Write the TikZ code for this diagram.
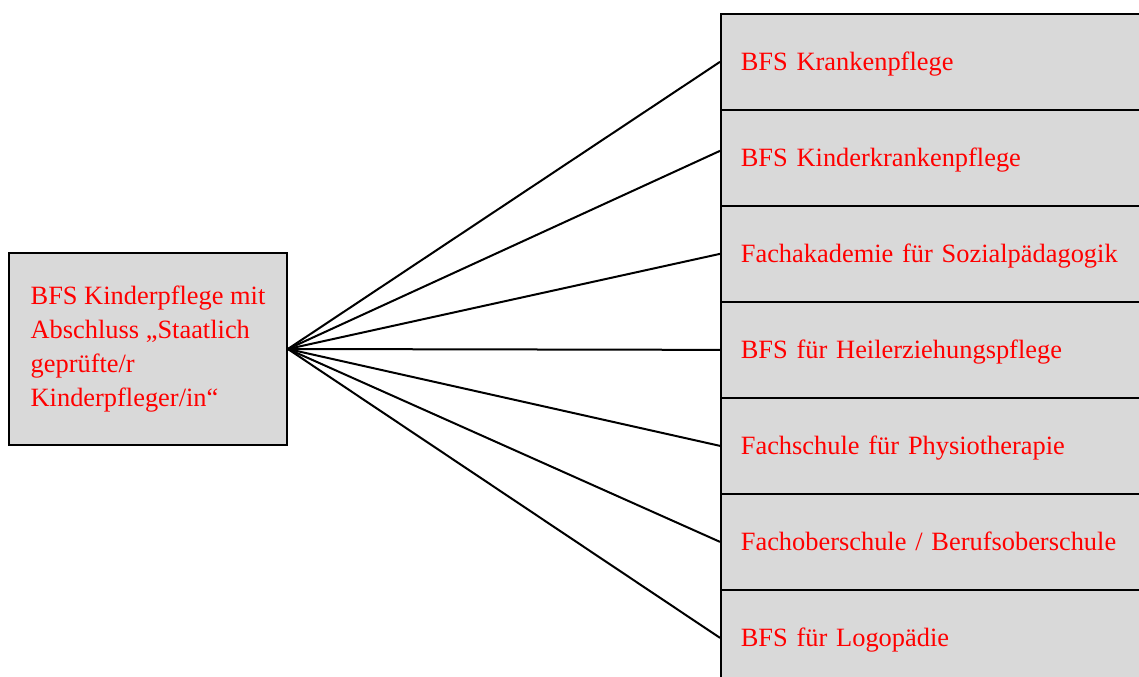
\documentclass[tikz,border=0pt]{standalone}
\usepackage{fontspec}
\setmainfont{Liberation Serif}
\begin{document}
\begin{tikzpicture}[x = 0.75pt, y = -0.75pt,
        every node/.style = {font = \fontsize{19.8}{25.7}\selectfont, text = red},
        box/.style = {draw, line width = 1.3pt, fill = black!15, inner sep = 0pt},
        leftbox/.style = {box, minimum width = 208.5pt, minimum height = 144pt, align = left},
        rightbox/.style = {box, anchor = north west, minimum height = 72pt, inner xsep = 15pt,
            text width = 330pt, align = left, text height = 13pt, text depth = 0pt},
        link/.style = {line width = 1.5pt}]
        \useasboundingbox (0, 0) rectangle (1139, 677);
        \clip (0, 0) rectangle (1139, 677);
        % Ausgangspunkt
        \node[leftbox] (kinderpflege) at (148, 349) {
                BFS Kinderpflege mit \\
                Abschluss „Staatlich \\
                geprüfte/r \\
                Kinderpfleger/in“
            };
        % Anschlussmoeglichkeiten
        \node[rightbox] (krankenpflege) at (720, 13) {BFS Krankenpflege};
        \node[rightbox] (kinderkrankenpflege) at (720, 109) {BFS Kinderkrankenpflege};
        \node[rightbox] (sozialpaedagogik) at (720, 205) {Fachakademie für Sozialpädagogik};
        \node[rightbox] (heilerziehung) at (720, 301) {BFS für Heilerziehungspflege};
        \node[rightbox] (physiotherapie) at (720, 397) {Fachschule für Physiotherapie};
        \node[rightbox] (fos) at (720, 493) {Fachoberschule / Berufsoberschule};
        \node[rightbox] (logopaedie) at (720, 589) {BFS für Logopädie};
        \draw[link] (kinderpflege.east) -- (krankenpflege.west);
        \draw[link] (kinderpflege.east) -- ([yshift = 5.25pt]kinderkrankenpflege.west);
        \draw[link] (kinderpflege.east) -- (sozialpaedagogik.west);
        \draw[link] (kinderpflege.east) -- (heilerziehung.west);
        \draw[link] (kinderpflege.east) -- (physiotherapie.west);
        \draw[link] (kinderpflege.east) -- (fos.west);
        \draw[link] (kinderpflege.east) -- (logopaedie.west);
    \end{tikzpicture}
\end{document}
